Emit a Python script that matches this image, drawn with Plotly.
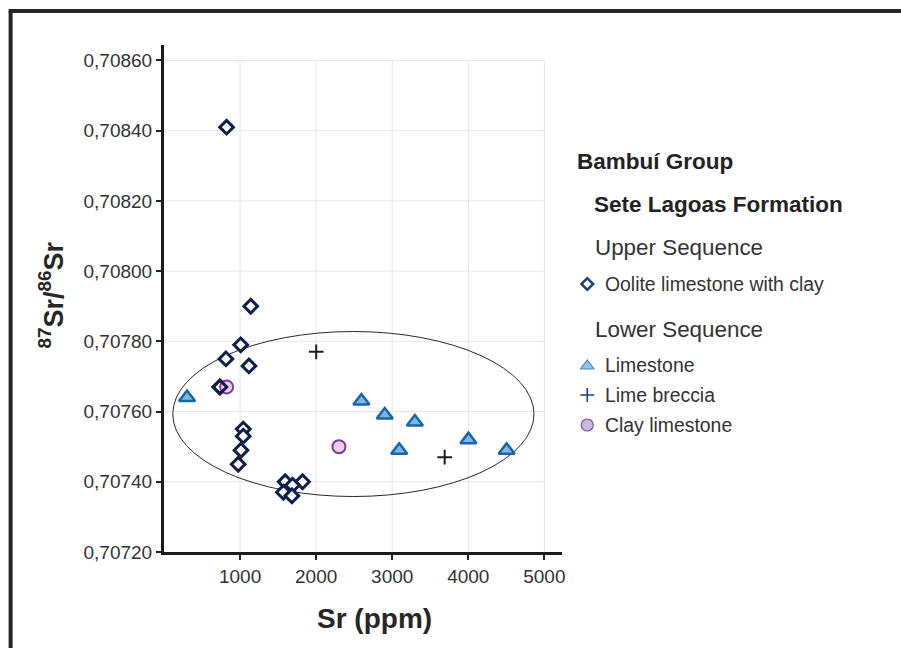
import plotly.graph_objects as go

# --- data -------------------------------------------------------------
oolite_sr = [823, 1140, 1008, 814, 1117, 735, 1042, 1042, 1012, 976, 1593, 1821, 1689, 1570, 1681]
oolite_ratio = [0.70841, 0.70790, 0.70779, 0.70775, 0.70773, 0.70767, 0.70755, 0.70753,
                0.70749, 0.70745, 0.70740, 0.70740, 0.70739, 0.70737, 0.70736]

limestone_sr = [303, 2595, 2902, 3298, 3092, 4002, 4504]
limestone_ratio = [0.70764, 0.70763, 0.70759, 0.70757, 0.70749, 0.70752, 0.70749]

breccia_sr = [2001, 3690]
breccia_ratio = [0.70777, 0.70747]

clay_sr = [823, 2300]
clay_ratio = [0.70767, 0.70750]

x_ticks = [1000, 2000, 3000, 4000, 5000]
y_ticks = [0.7072, 0.7074, 0.7076, 0.7078, 0.7080, 0.7082, 0.7084, 0.7086]
y_ticklabels = ["0,70720", "0,70740", "0,70760", "0,70780", "0,70800", "0,70820", "0,70840", "0,70860"]

# grouping ellipse (Sr ppm / ratio extents)
ellipse_x = [115, 4864]
ellipse_y = [0.707358, 0.707828]

# --- layout geometry (pixels) -----------------------------------------
W, H = 901, 648
L, R, T, B = 164, 0, 45, 96
PW, PH = W - L - R, H - T - B
AXIS_W = 400            # width of the scatter axes inside the plot area
X_MAX = 5237
Y_MIN, Y_MAX = 0.7072, 0.708644

FONT = "Liberation Sans, Arial, sans-serif"
NAVY = "#0d1f4a"
TXT = "#333333"


def px(x):
    return (x - L) / PW


def py(y):
    return (H - B - y) / PH


fig = go.Figure()

fig.add_trace(go.Scatter(
    x=oolite_sr, y=oolite_ratio, mode="markers", name="Oolite limestone with clay",
    marker=dict(symbol="diamond", size=10.5, color="white", line=dict(color=NAVY, width=3))))
fig.add_trace(go.Scatter(
    x=clay_sr, y=clay_ratio, mode="markers", name="Clay limestone",
    marker=dict(symbol="circle", size=13, color="#f0cce8", line=dict(color="#7a3d9c", width=2))))
fig.add_trace(go.Scatter(
    x=limestone_sr, y=limestone_ratio, mode="markers", name="Limestone",
    marker=dict(symbol="triangle-up", size=14, color="#7fb4e4", line=dict(color="#1866aa", width=2.5))))
fig.add_trace(go.Scatter(
    x=breccia_sr, y=breccia_ratio, mode="markers", name="Lime breccia",
    marker=dict(symbol="cross-thin", size=10.5, line=dict(color="#1e1e1e", width=2))))
# re-draw the upper-left diamond over the clay circle
fig.add_trace(go.Scatter(
    x=oolite_sr[5:6], y=oolite_ratio[5:6], mode="markers", showlegend=False,
    marker=dict(symbol="diamond", size=10.5, color="rgba(0,0,0,0)", line=dict(color=NAVY, width=3))))

# gridlines (only span the labelled range)
shapes = []
for xv in x_ticks:
    shapes.append(dict(type="line", xref="x", yref="y", x0=xv, x1=xv, y0=y_ticks[0], y1=y_ticks[-1],
                       line=dict(color="#e6e6e6", width=1), layer="below"))
for yv in y_ticks[1:]:
    shapes.append(dict(type="line", xref="x", yref="y", x0=0, x1=x_ticks[-1], y0=yv, y1=yv,
                       line=dict(color="#e6e6e6", width=1), layer="below"))
# ellipse
shapes.append(dict(type="circle", xref="x", yref="y", x0=ellipse_x[0], x1=ellipse_x[1],
                   y0=ellipse_y[0], y1=ellipse_y[1], line=dict(color="#2a2a2a", width=1), layer="below"))
# outer frame (left and top edges)
shapes.append(dict(type="line", xref="paper", yref="paper", x0=px(10), x1=px(10), y0=py(11), y1=py(H + 5),
                   line=dict(color="#262626", width=4)))
shapes.append(dict(type="line", xref="paper", yref="paper", x0=px(8), x1=px(W + 5), y0=py(11), y1=py(11),
                   line=dict(color="#262626", width=4)))

# legend block (pixel-space overlay axes)
legend_x = 589
fig.add_trace(go.Scatter(
    x=[legend_x], y=[284], xaxis="x2", yaxis="y2", mode="markers", showlegend=False, cliponaxis=False,
    marker=dict(symbol="diamond", size=9, color="white", line=dict(color="#1c3f7a", width=2.5))))
fig.add_trace(go.Scatter(
    x=[legend_x], y=[366], xaxis="x2", yaxis="y2", mode="markers", showlegend=False, cliponaxis=False,
    marker=dict(symbol="triangle-up", size=12, color="#8fc3ec", line=dict(color="#3b8bc9", width=1.2))))
fig.add_trace(go.Scatter(
    x=[legend_x], y=[395], xaxis="x2", yaxis="y2", mode="markers", showlegend=False, cliponaxis=False,
    marker=dict(symbol="cross-thin", size=10, line=dict(color="#1c3f7a", width=1.6))))
fig.add_trace(go.Scatter(
    x=[legend_x], y=[425], xaxis="x2", yaxis="y2", mode="markers", showlegend=False, cliponaxis=False,
    marker=dict(symbol="circle", size=12, color="#c9b8e2", line=dict(color="#7a55a8", width=1.2))))

annotations = []


def label(text, x, y, size, bold=False):
    annotations.append(dict(
        text=f"<b>{text}</b>" if bold else text, x=px(x), y=py(y), xref="paper", yref="paper",
        xanchor="left", yanchor="middle", showarrow=False,
        font=dict(family=FONT, size=size, color="#222222" if bold else TXT)))


label("Bambuí Group", 577, 162, 22.5, bold=True)
label("Sete Lagoas Formation", 594, 205, 22.5, bold=True)
label("Upper Sequence", 595, 247, 22.4)
label("Oolite limestone with clay", 605, 284, 19.4)
label("Lower Sequence", 595, 329, 22.4)
label("Limestone", 605, 365, 19.4)
label("Lime breccia", 605, 395, 19.4)
label("Clay limestone", 605, 425, 19.4)

# axis titles
annotations.append(dict(text="<b>Sr (ppm)</b>", x=px(375), y=py(618), xref="paper", yref="paper",
                        xanchor="center", yanchor="middle", showarrow=False,
                        font=dict(family=FONT, size=28, color="#262626")))
annotations.append(dict(text="<b><sup>87</sup>Sr/<sup>86</sup>Sr</b>", x=px(51), y=py(295),
                        xref="paper", yref="paper", xanchor="center", yanchor="middle",
                        showarrow=False, textangle=-90,
                        font=dict(family=FONT, size=27, color="#262626")))

fig.update_layout(
    width=W, height=H,
    margin=dict(l=L, r=R, t=T, b=B, pad=0),
    paper_bgcolor="white", plot_bgcolor="rgba(0,0,0,0)",
    showlegend=False,
    shapes=shapes, annotations=annotations,
    xaxis=dict(domain=[0, AXIS_W / PW], range=[0, X_MAX], tickvals=x_ticks,
               ticktext=[str(v) for v in x_ticks],
               showgrid=False, zeroline=False, showline=True, linewidth=3, linecolor="#1a1a1a",
               ticks="outside", ticklen=5, tickwidth=1.5, tickcolor="#222222",
               tickfont=dict(family=FONT, size=19, color=TXT)),
    yaxis=dict(range=[Y_MIN, Y_MAX], tickvals=y_ticks, ticktext=y_ticklabels,
               showgrid=False, zeroline=False, showline=True, linewidth=3, linecolor="#1a1a1a",
               ticks="outside", ticklen=5, tickwidth=1.5, tickcolor="#222222",
               tickfont=dict(family=FONT, size=19, color=TXT)),
    xaxis2=dict(domain=[0, 1], range=[L, W - R], anchor="y2", visible=False),
    yaxis2=dict(range=[H - B, T], anchor="x2", overlaying="y", visible=False),
)

fig.write_html("out.html")
